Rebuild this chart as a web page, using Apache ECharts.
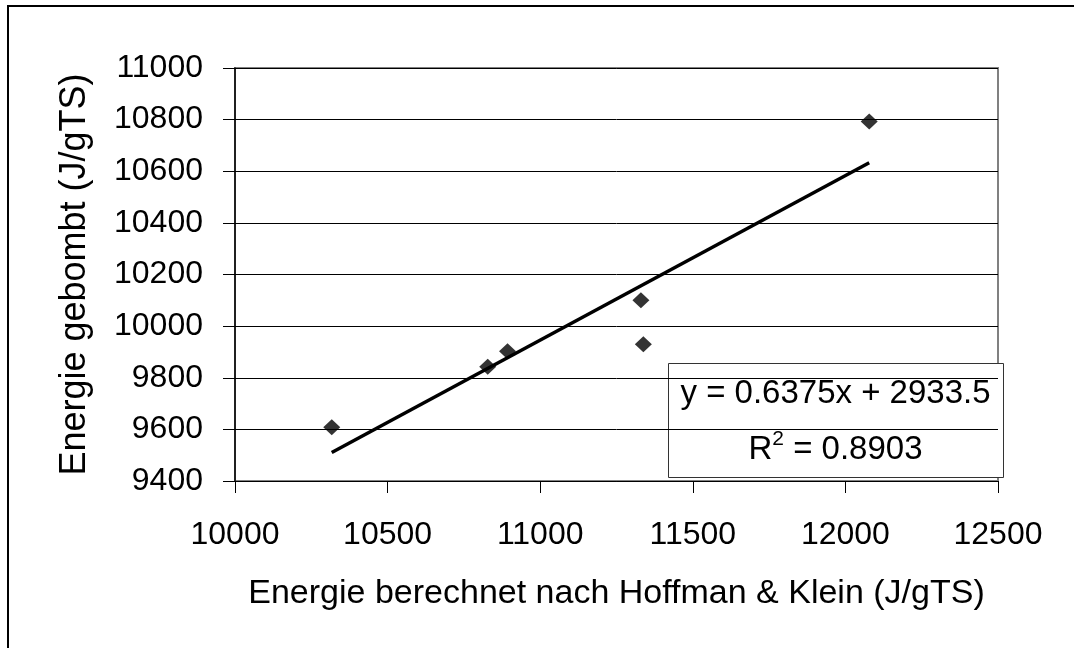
<!DOCTYPE html>
<html>
<head>
<meta charset="utf-8">
<script src="https://cdn.jsdelivr.net/npm/echarts@6/dist/echarts.min.js"></script>
<style>
  html, body { margin: 0; padding: 0; background: #fff; }
  #chart { width: 1074px; height: 648px; }
</style>
</head>
<body>
<div id="chart"></div>
<script>
// Measured energies (J/gTS): calculated (Hoffman & Klein) vs. bomb calorimeter
const energyCalculated = [10317, 10828, 10893, 11330, 11338, 12078];
const energyBombed     = [9608, 9843, 9903, 10100, 9930, 10793];

// Linear regression shown in the label box
const trendSlope = 0.6375;
const trendIntercept = 2933.5;
const rSquared = '0.8903';

const xTitle = 'Energie berechnet nach Hoffman & Klein (J/gTS)';
const yTitle = 'Energie gebombt (J/gTS)';

const FONT = '"Liberation Sans", Arial, sans-serif';

const points = energyCalculated.map((x, i) => [x, energyBombed[i]]);
const xLo = Math.min(...energyCalculated);
const xHi = Math.max(...energyCalculated);
const trendLine = [xLo, xHi].map(x => [x, trendSlope * x + trendIntercept]);

const plainNumber = v => String(v);

const chart = echarts.init(document.getElementById('chart'));
chart.setOption({
  backgroundColor: '#ffffff',
  animation: false,
  grid: {
    left: 235, right: 76, top: 68, bottom: 167,
    show: true, borderColor: '#808080', borderWidth: 2, backgroundColor: 'transparent'
  },
  xAxis: {
    type: 'value', min: 10000, max: 12500, interval: 500,
    name: xTitle, nameLocation: 'middle', nameGap: 96,
    nameTextStyle: { fontFamily: FONT, fontSize: 34, color: '#000' },
    axisLine: { show: true, onZero: false, lineStyle: { color: '#000', width: 1 } },
    axisTick: { show: true, length: 12, lineStyle: { color: '#000', width: 1 } },
    axisLabel: { fontFamily: FONT, fontSize: 32, color: '#000', margin: 38, formatter: plainNumber },
    splitLine: { show: false }
  },
  yAxis: {
    type: 'value', min: 9400, max: 11000, interval: 200,
    name: yTitle, nameLocation: 'middle', nameGap: 142, nameRotate: 90,
    nameTextStyle: { fontFamily: FONT, fontSize: 36, color: '#000' },
    axisLine: { show: true, onZero: false, lineStyle: { color: '#000', width: 1.5 } },
    axisTick: { show: true, length: 12, lineStyle: { color: '#000', width: 1 } },
    axisLabel: { fontFamily: FONT, fontSize: 32, color: '#000', margin: 32, formatter: plainNumber },
    splitLine: { show: true, lineStyle: { color: '#000', width: 1 } }
  },
  series: [
    {
      type: 'line', data: trendLine, symbol: 'none', silent: true,
      lineStyle: { color: '#000', width: 3.5 }, z: 2
    },
    {
      type: 'scatter', data: points, symbol: 'diamond', symbolSize: [17, 16],
      itemStyle: { color: '#000' }, z: 3
    }
  ],
  graphic: [
    {
      type: 'rect', silent: true, z: 0,
      shape: { x: 8, y: 6, width: 1100, height: 700 },
      style: { fill: 'none', stroke: '#000', lineWidth: 2 }
    },
    {
      type: 'group', left: 668, top: 363, z: 10,
      children: [
        {
          type: 'rect',
          shape: { x: 0, y: 0, width: 335, height: 114 },
          style: { fill: '#fff', stroke: '#333', lineWidth: 1 }
        },
        {
          type: 'text', x: 167, y: 30,
          style: {
            text: 'y = ' + trendSlope + 'x + ' + trendIntercept,
            font: '33px ' + FONT, fill: '#000', align: 'center', verticalAlign: 'middle'
          }
        },
        {
          type: 'text', x: 167, y: 84,
          style: {
            text: '{n|R}{s|2}{n| = ' + rSquared + '}',
            align: 'center', verticalAlign: 'middle',
            rich: {
              n: { fontFamily: FONT, fontSize: 33, color: '#000', verticalAlign: 'bottom', lineHeight: 38 },
              s: { fontFamily: FONT, fontSize: 21, color: '#000', verticalAlign: 'top', lineHeight: 38, padding: [0, 0, 15, 0] }
            }
          }
        }
      ]
    }
  ]
});
</script>
</body>
</html>
